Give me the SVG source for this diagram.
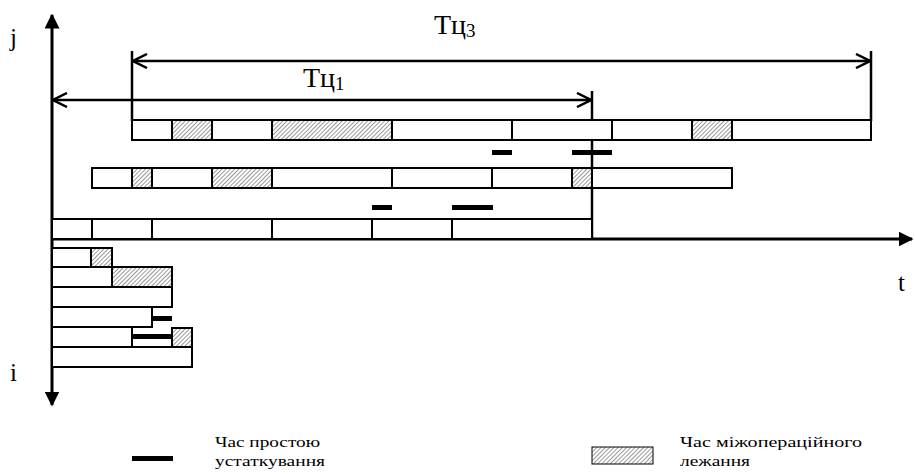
<svg xmlns="http://www.w3.org/2000/svg" width="915" height="474" viewBox="0 0 915 474">
<style>
.w{fill:#fff;stroke:#000;stroke-width:2}
.h{fill:url(#hatch);stroke:#000;stroke-width:2}
.idle{fill:#000}
.ax{stroke:#000;stroke-width:3;fill:none}
.dim{stroke:#000;stroke-width:2.5;fill:none}
.lbl{font-family:"Liberation Serif","Times New Roman",serif;fill:#000}
</style>
<defs>
<pattern id="hatch" width="3" height="3" patternUnits="userSpaceOnUse" patternTransform="rotate(45)">
<rect width="3" height="3" fill="#fff"/>
<line x1="0" y1="0" x2="0" y2="3" stroke="#333" stroke-width="1"/>
</pattern>
<marker id="fa" viewBox="0 0 10 10" refX="9" refY="5" markerWidth="5" markerHeight="5" orient="auto" markerUnits="strokeWidth">
<path d="M0,0 L10,5 L0,10 Z" fill="#000"/>
</marker>
<marker id="oa" viewBox="0 0 16 16" refX="15" refY="8" markerWidth="16" markerHeight="16" orient="auto-start-reverse" markerUnits="userSpaceOnUse">
<path d="M1,1 L15,8 L1,15" fill="none" stroke="#000" stroke-width="2.5"/>
</marker>
</defs>

<g id="connectors">
<line class="ax" x1="52" y1="239" x2="52" y2="15" marker-end="url(#fa)"/>
<line class="ax" x1="52" y1="239" x2="52" y2="405" marker-end="url(#fa)"/>
<line class="ax" x1="52" y1="239" x2="912" y2="239" marker-end="url(#fa)"/>
<line class="dim" x1="132" y1="51" x2="132" y2="121"/>
<line class="dim" x1="871" y1="51" x2="871" y2="121"/>
<line class="dim" x1="592" y1="91" x2="592" y2="239"/>
<line class="dim" x1="133" y1="61" x2="870" y2="61" marker-start="url(#oa)" marker-end="url(#oa)"/>
<line class="dim" x1="53" y1="100" x2="591" y2="100" marker-start="url(#oa)" marker-end="url(#oa)"/>
</g>

<g id="row-top">
<rect class="w" x="132" y="120" width="40" height="20"/>
<rect class="h" x="172" y="120" width="40" height="20"/>
<rect class="w" x="212" y="120" width="60" height="20"/>
<rect class="h" x="272" y="120" width="120" height="20"/>
<rect class="w" x="392" y="120" width="120" height="20"/>
<rect class="w" x="512" y="120" width="100" height="20"/>
<rect class="w" x="612" y="120" width="80" height="20"/>
<rect class="h" x="692" y="120" width="40" height="20"/>
<rect class="w" x="732" y="120" width="139" height="20"/>
</g>

<g id="row-middle">
<rect class="w" x="92" y="168" width="40" height="20"/>
<rect class="h" x="132" y="168" width="20" height="20"/>
<rect class="w" x="152" y="168" width="60" height="20"/>
<rect class="h" x="212" y="168" width="60" height="20"/>
<rect class="w" x="272" y="168" width="120" height="20"/>
<rect class="w" x="392" y="168" width="100" height="20"/>
<rect class="w" x="492" y="168" width="80" height="20"/>
<rect class="h" x="572" y="168" width="20" height="20"/>
<rect class="w" x="592" y="168" width="140" height="20"/>
</g>

<g id="row-bottom">
<rect class="w" x="52" y="219" width="40" height="20"/>
<rect class="w" x="92" y="219" width="60" height="20"/>
<rect class="w" x="152" y="219" width="120" height="20"/>
<rect class="w" x="272" y="219" width="100" height="20"/>
<rect class="w" x="372" y="219" width="80" height="20"/>
<rect class="w" x="452" y="219" width="140" height="20"/>
</g>

<g id="idle-times">
<rect class="idle" x="492" y="150" width="20" height="5"/>
<rect class="idle" x="572" y="150" width="40" height="5"/>
<rect class="idle" x="372" y="205" width="20" height="5"/>
<rect class="idle" x="452" y="205" width="41" height="5"/>
</g>

<g id="left-chart">
<rect class="w" x="52" y="248" width="39" height="19"/>
<rect class="h" x="91" y="248" width="21" height="19"/>
<rect class="w" x="52" y="267" width="60" height="20"/>
<rect class="h" x="112" y="267" width="60" height="20"/>
<rect class="w" x="52" y="287" width="120" height="20"/>
<rect class="w" x="52" y="307" width="100" height="20"/>
<rect class="idle" x="152" y="316" width="20" height="5"/>
<rect class="w" x="52" y="327" width="80" height="20"/>
<rect class="w" x="132" y="336" width="40" height="11"/>
<rect class="idle" x="132" y="334" width="40" height="5"/>
<rect class="h" x="172" y="328" width="20" height="19"/>
<rect class="w" x="52" y="347" width="140" height="20"/>
</g>

<g id="labels">
<text class="lbl" x="10" y="46" font-size="25">j</text>
<text class="lbl" x="898" y="291" font-size="25">t</text>
<text class="lbl" x="10" y="381" font-size="25">i</text>
<text class="lbl" x="303" y="87" font-size="28">Тц<tspan font-size="19" dy="3">1</tspan></text>
<text class="lbl" x="434" y="34" font-size="28">Тц<tspan font-size="19" dy="3">3</tspan></text>
</g>

<g id="legend">
<rect class="idle" x="132" y="456" width="41" height="5"/>
<text class="lbl" x="215" y="447" font-size="15" textLength="105" lengthAdjust="spacingAndGlyphs">Час простою</text>
<text class="lbl" x="215" y="466" font-size="15" textLength="110" lengthAdjust="spacingAndGlyphs">устаткування</text>
<rect fill="url(#hatch)" stroke="#000" stroke-width="1" x="592" y="447" width="61" height="17"/>
<text class="lbl" x="680" y="447" font-size="15" textLength="182" lengthAdjust="spacingAndGlyphs">Час міжопераційного</text>
<text class="lbl" x="680" y="466" font-size="15" textLength="70" lengthAdjust="spacingAndGlyphs">лежання</text>
</g>
</svg>
